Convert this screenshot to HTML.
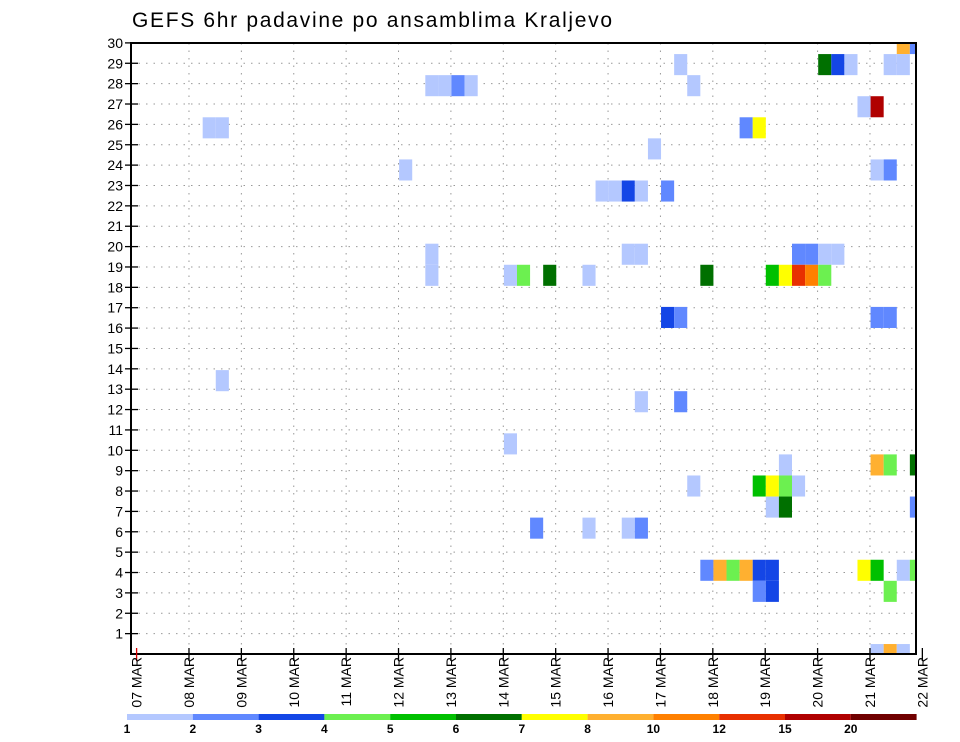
<!DOCTYPE html>
<html><head><meta charset="utf-8"><style>
html,body{margin:0;padding:0;background:#fff;}
svg{display:block;font-family:"Liberation Sans",sans-serif;}
</style></head><body>
<svg id="chart" width="960" height="742" viewBox="0 0 960 742">
<text x="132" y="27" font-size="21" textLength="480" fill="#000">GEFS 6hr padavine po ansamblima Kraljevo</text>
<defs><clipPath id="plotclip"><rect x="131" y="43" width="785" height="611"/></clipPath></defs>
<g id="grid"></g>
<g id="cells" clip-path="url(#plotclip)"></g>
<rect x="131" y="43" width="785" height="611" fill="none" stroke="#000" stroke-width="2"/>
<g id="axes"></g>
<g id="legend"></g>
</svg>
<script>
// data
const cellRows = [30,30, 29,29,29,29,29,29, 28,28,28,28,28, 27,27, 26,26,26,26, 25, 24,24,24, 23,23,23,23,23,
 20,20,20,20,20,20,20, 19,19,19,19,19,19,19,19,19,19,19, 17,17,17,17, 14, 13,13, 11, 10,10,10,10, 9,9,9,9,9, 8,8,8, 7,7,7,7,
 5,5,5,5,5,5,5,5,5,5, 4,4,4, 1,1,1];
const cellSteps = [58,59, 41,52,53,54,57,58, 22,23,24,25,42, 55,56, 5,6,46,47, 39, 20,56,57, 35,36,37,38,40,
 22,37,38,50,51,52,53, 22,28,29,31,34,43,48,49,50,51,52, 40,41,56,57, 6, 38,41, 28, 49,56,57,59, 42,47,48,49,50, 48,49,59, 30,34,37,38,
 43,44,45,46,47,48,55,56,58,59, 47,48,57, 56,57,58];
const cellLevels = [7,1, 0,5,2,0,0,0, 0,0,1,0,0, 0,10, 0,0,1,6, 0, 0,0,1, 0,0,2,0,1,
 0,0,0,1,1,0,0, 0,0,3,5,0,5,4,6,9,8,3, 2,1,1,1, 0, 0,1, 0, 0,7,3,5, 0,4,6,3,0, 0,5,1, 1,0,0,1,
 1,7,3,7,2,2,6,4,0,3, 1,2,3, 0,7,0];
const levelColors = ["#b4c8ff","#6088ff","#1446e6","#6cf050","#00c000","#007000","#ffff00","#ffb030","#ff8000","#e83000","#b00000","#700000"];
const legendLabels = ["1","2","3","4","5","6","7","8","10","12","15","20"];
const yTicks = [1,2,3,4,5,6,7,8,9,10,11,12,13,14,15,16,17,18,19,20,21,22,23,24,25,26,27,28,29,30];
const dateLabels = ["07 MAR","08 MAR","09 MAR","10 MAR","11 MAR","12 MAR","13 MAR","14 MAR","15 MAR","16 MAR","17 MAR","18 MAR","19 MAR","20 MAR","21 MAR","22 MAR"];

const NS="http://www.w3.org/2000/svg";
function mk(tag,attrs,parent){const e=document.createElementNS(NS,tag);for(const k in attrs)e.setAttribute(k,attrs[k]);parent.appendChild(e);return e;}
const stepW=13.096;
function xStep(k){return 137.2+k*stepW;}
function xDay(d){return 136.6+d*4*stepW;}
function yCell(r){return 43.5+(30-r)*21.07;}
function yGrid(j){return 654-j*20.37;}

const grid=document.getElementById('grid');
yTicks.forEach(function(t){
  if(t<30){const l=mk('line',{x1:131,x2:916,y1:yGrid(t),y2:yGrid(t),stroke:'#999','stroke-width':1,'stroke-dasharray':'1.5,6'},grid);
  
  }
});
dateLabels.forEach(function(d,i){
  const x=xDay(i); if(x>915||i===0)return;
  const l=mk('line',{x1:x,x2:x,y1:43,y2:654,stroke:'#999','stroke-width':1,'stroke-dasharray':'1.5,6'},grid);
  
  
});

const cg=document.getElementById('cells');
cellRows.forEach(function(r,i){
  const rc=mk('rect',{x:xStep(cellSteps[i]),y:yCell(r)-10.5,width:stepW,height:21.07,fill:levelColors[cellLevels[i]]},cg);
  
  
});

const ax=document.getElementById('axes');
yTicks.forEach(function(t){
  const y=yGrid(t);
  const tk=mk('line',{x1:125,x2:138,y1:y,y2:y,stroke:'#000','stroke-width':1.3},ax);
  
  
  const tx=mk('text',{x:123,y:y+5,'font-size':14,'text-anchor':'end',fill:'#000'},ax);
  tx.textContent=String(t);
  
  
});
dateLabels.forEach(function(d,i){
  const x=xDay(i);
  const tk=mk('line',{x1:x,x2:x,y1:648,y2:661,stroke:i===0?'#d00':'#000','stroke-width':1.3},ax);
  
  
  const tx=mk('text',{x:0,y:0,'font-size':14,'text-anchor':'end',fill:'#000',transform:'translate('+(x+5)+',657) rotate(-90)'},ax);
  tx.textContent=d;
  
  
});

const lg=document.getElementById('legend');
const segW=65.8;
levelColors.forEach(function(c,i){
  const s=mk('rect',{x:127+i*segW,y:714,width:segW,height:6,fill:c},lg);
  
  
  const t=mk('text',{x:127+i*segW,y:733,'font-size':12,'font-weight':'bold','text-anchor':'middle',fill:'#000'},lg);
  t.textContent=legendLabels[i];
  
  
});
</script>
</body></html>
